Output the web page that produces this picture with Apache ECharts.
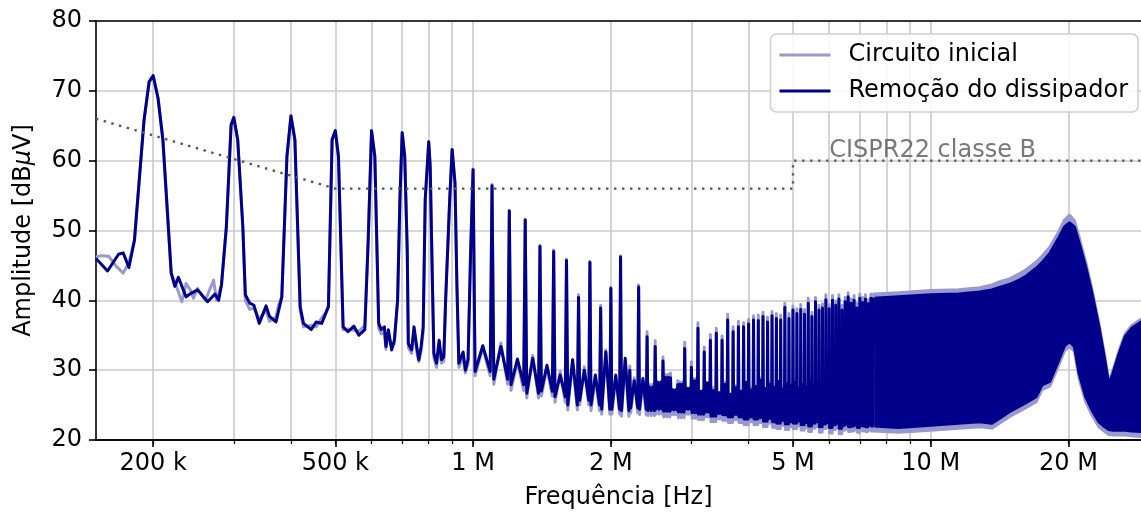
<!DOCTYPE html>
<html>
<head>
<meta charset="utf-8">
<script src="https://cdn.jsdelivr.net/npm/echarts@6/dist/echarts.min.js"></script>
<style>
  html, body { margin: 0; padding: 0; background: #ffffff; }
  #chart { width: 1141px; height: 514px; }
</style>
</head>
<body>
<div id="chart"></div>
<script>
// ---- Series names and axis ticks ----
const seriesNames = ['Circuito inicial', 'Remoção do dissipador'];
const limitName = 'CISPR22 classe B';
const xLabelTicks = [200e3, 500e3, 1e6, 2e6, 5e6, 10e6, 20e6];
const xGridTicks = [200e3, 300e3, 400e3, 500e3, 600e3, 700e3, 800e3, 900e3,
  1e6, 2e6, 3e6, 4e6, 5e6, 6e6, 7e6, 8e6, 9e6, 10e6, 20e6];
const xRange = [150e3, 28.8e6];
const yRange = [20, 80];
const yStep = 10;

// ---- CISPR 22 class B quasi-peak limit [Hz, dBuV] ----
const limitCispr = [[150e3, 66], [500e3, 56], [5e6, 56], [5e6, 60], [30e6, 60]];
const limitLabelAt = [6.0e6, 60];

// ---- Low band trace, 150 kHz - 1 MHz: [kHz, dBuV] ----
const lowInicial = [
  [150, 46.2], [154, 46.4], [160, 46.3], [166, 44.9], [172, 43.9], [177, 45.4], [182, 48.6],
  [191, 65.8], [196, 71.3], [200, 72.0], [205, 68.9], [210, 63.0], [219, 43.9], [224, 42.3],
  [231, 39.8], [236, 42.4], [241, 41.5], [245, 40.3], [250, 41.7], [260, 40.0], [271, 42.9],
  [275, 40.0], [282, 42.2], [289, 50.5], [296, 65.1], [300, 66.2], [306, 63.0], [314, 50.5],
  [318, 40.0], [325, 38.7], [332, 38.9], [341, 37.3], [353, 38.6], [359, 37.0], [371, 37.6],
  [376, 39.4], [382, 40.5], [392, 60.6], [400, 66.4], [408, 63.0], [419, 38.5], [426, 36.2],
  [443, 36.4], [454, 36.2], [467, 37.5], [476, 38.2], [483, 39.1], [492, 63.0], [500, 64.3],
  [508, 60.6], [520, 35.8], [533, 35.9], [549, 35.7], [563, 35.6], [580, 36.4], [590, 48.6],
  [600, 64.3], [610, 60.6], [622, 36.0], [630, 35.2], [640, 35.4], [645, 33.0], [653, 35.3],
  [664, 33.3], [673, 33.8], [684, 40.0], [692, 54.4], [700, 64.0], [709, 60.6], [718, 47.2],
  [722, 33.2], [734, 32.4], [743, 35.6], [753, 32.6], [761, 31.2], [770, 32.8], [778, 35.5],
  [786, 54.4], [800, 62.7], [806, 59.1], [815, 42.4], [821, 31.8], [832, 30.4], [843, 33.6],
  [853, 31.0], [863, 31.3], [871, 40.0], [889, 54.4], [900, 61.6], [913, 56.8], [922, 42.0],
  [931, 30.4], [951, 32.0], [962, 29.6], [975, 31.0], [988, 47.2]
];
const lowDissip = [
  [150, 46.0], [159, 44.2], [168, 46.6], [172, 46.8], [177, 44.7], [182, 48.6],
  [191, 65.8], [196, 71.3], [200, 72.2], [205, 68.9], [210, 63.0], [219, 43.9], [223, 42.0],
  [227, 43.3], [236, 40.5], [242, 41.0], [250, 41.5], [263, 39.8], [273, 40.9], [278, 40.0],
  [282, 42.2], [289, 50.5], [296, 65.1], [300, 66.2], [306, 63.0], [314, 50.5], [318, 40.8],
  [325, 39.6], [332, 39.3], [341, 36.7], [353, 39.2], [359, 37.7], [371, 36.9], [382, 40.5],
  [392, 60.6], [400, 66.4], [408, 63.0], [419, 39.1], [426, 36.7], [443, 35.8], [454, 36.9],
  [467, 36.7], [483, 39.1], [492, 63.0], [500, 64.3], [508, 60.6], [520, 36.2], [533, 35.5],
  [549, 36.3], [563, 35.0], [580, 35.8], [590, 48.6], [600, 64.3], [610, 60.6], [622, 36.7],
  [630, 35.8], [640, 36.2], [645, 33.4], [653, 35.8], [664, 32.9], [673, 34.3], [684, 40.0],
  [692, 54.4], [700, 64.0], [709, 60.6], [718, 47.2], [722, 33.8], [734, 32.9], [743, 36.2],
  [753, 33.4], [761, 31.5], [770, 33.4], [778, 36.2], [786, 54.4], [800, 62.7], [806, 59.1],
  [815, 42.4], [821, 32.4], [832, 31.0], [843, 34.3], [853, 31.5], [863, 31.9], [871, 40.0],
  [889, 54.4], [900, 61.6], [913, 56.8], [922, 42.0], [931, 31.0], [951, 32.6], [962, 30.0],
  [975, 31.5], [988, 47.2]
];

// ---- Harmonics of 100 kHz from 1.0 MHz to 7.5 MHz ----
const harmonicStep = 100e3;
const firstHarmonic = 10;
const denseFrom = 24; // from 2.4 MHz the floor noise fills the gaps
const peaksInicial = [
  58.8, 56.6, 52.9, 51.6, 47.9, 47.2, 45.9, 40.8, 45.6, 39.3,
  41.9, 46.4, 30.6, 42.2, 35.5, 34.2, 31.9, 29.6, 28.5, 34.0,
  31.2, 36.8, 33.3, 35.1, 36.0, 34.9, 38.0, 36.2, 37.0, 36.8,
  37.3, 37.8, 37.9, 38.3, 37.6, 38.4, 38.1, 37.9, 39.6, 38.1,
  39.2, 38.8, 39.4, 38.7, 40.3, 38.3, 40.4, 39.3, 39.5, 40.8,
  39.4, 40.7, 39.9, 40.8, 39.3, 40.4, 41.1, 40.2, 40.7, 39.6,
  40.9, 40.4, 40.8, 40.1, 40.9, 40.9
];
const peaksDissip = [
  58.7, 56.4, 52.8, 51.5, 47.7, 47.0, 45.7, 40.4, 45.4, 38.9,
  41.7, 46.2, 30.0, 41.9, 34.8, 33.4, 31.3, 28.9, 27.9, 33.1,
  30.4, 36.0, 32.6, 34.3, 35.3, 34.3, 37.2, 35.5, 36.2, 36.2,
  36.6, 37.2, 37.1, 37.7, 36.9, 37.8, 37.4, 37.2, 39.0, 37.4,
  38.6, 38.1, 38.7, 38.0, 39.6, 37.7, 39.8, 38.6, 38.9, 40.1,
  38.8, 40.0, 39.3, 40.2, 38.6, 39.8, 40.5, 39.6, 40.0, 38.9,
  40.3, 39.7, 40.2, 39.5, 40.3, 40.4
];
// floor between consecutive harmonics: lowest dip and the noise bump
const dipsInicial = [
  29.2, 28.0, 27.1, 26.0, 26.3, 25.4, 24.3, 25.0, 24.2, 23.7,
  23.7, 23.4, 23.9, 23.6, 23.5, 23.7, 23.3, 23.6, 23.2, 23.7,
  23.1, 22.9, 23.3, 22.6, 23.0, 22.8, 22.5, 22.9, 22.5, 22.2,
  22.6, 22.2, 22.5, 21.9, 22.4, 21.8, 21.6, 22.1, 21.5, 21.9,
  21.6, 22.0, 21.4, 21.8, 21.2, 21.7, 21.9, 21.1, 21.6, 21.8,
  21.0, 21.5, 21.7, 20.9, 21.4, 21.6, 21.2, 21.3, 21.5, 21.1,
  21.4, 21.3, 21.2, 21.5, 21.3
];
const dipsDissip = [
  29.8, 28.7, 27.9, 26.7, 27.0, 26.2, 25.0, 25.7, 25.0, 24.4,
  24.4, 24.2, 24.6, 24.4, 24.2, 24.4, 24.1, 24.3, 24.0, 24.4,
  23.9, 23.7, 24.0, 23.4, 23.8, 23.6, 23.3, 23.7, 23.3, 23.0,
  23.3, 23.0, 23.2, 22.7, 23.1, 22.6, 22.4, 22.8, 22.3, 22.6,
  22.4, 22.7, 22.2, 22.5, 22.0, 22.4, 22.6, 21.9, 22.3, 22.5,
  21.8, 22.2, 22.4, 21.7, 22.1, 22.3, 21.9, 22.0, 22.2, 21.8,
  22.1, 22.0, 21.9, 22.2, 22.0
];
const bumpsInicial = [
  33.2, 33.9, 31.2, 32.1, 30.3, 29.8, 31.0, 30.5, 28.8, 32.9,
  29.0, 31.3, 28.9, 28.4, 28.0, 27.9, 29.4, 26.8, 28.3, 27.0,
  28.8, 26.7, 27.9, 27.5, 26.5, 28.3, 26.3, 27.8, 26.7, 28.0,
  27.5, 27.4, 28.9, 27.1, 28.3, 27.3, 28.1, 27.6, 27.8, 28.1,
  28.0, 27.7, 27.7, 27.9, 28.2, 28.1, 27.9, 27.8, 28.3, 28.3,
  28.0, 28.0, 28.4, 28.5, 28.6, 28.7, 28.7, 28.9, 28.9, 29.1,
  29.1, 29.3, 29.2, 29.5, 29.3
];
const bumpsDissip = [
  33.5, 33.4, 31.6, 31.7, 30.7, 29.3, 31.5, 30.0, 29.3, 32.6,
  29.3, 31.7, 28.5, 28.8, 27.6, 28.3, 29.0, 27.2, 28.0, 27.4,
  28.5, 27.0, 28.2, 27.1, 26.8, 28.0, 26.6, 27.5, 27.0, 28.3,
  27.2, 27.7, 28.6, 27.4, 28.0, 27.6, 28.4, 27.3, 28.1, 27.8,
  28.3, 27.4, 28.0, 27.6, 28.5, 27.8, 28.2, 27.5, 28.6, 28.0,
  28.3, 27.7, 28.7, 28.2, 28.9, 28.4, 29.0, 28.6, 29.2, 28.8,
  29.4, 29.0, 29.5, 29.2, 29.6
];

// ---- Dense harmonic band above 7.5 MHz: envelope [MHz] -> dBuV ----
const bandFreqMHz = [7.5, 8.5, 10, 11.5, 12.8, 13.6, 14.2, 14.9, 15.6, 16.1, 17.0, 17.5, 18.2,
  19.0, 19.6, 20.1, 20.6, 21.1, 21.8, 22.5, 23.3, 24.0, 24.5, 25.0, 25.8, 26.6, 27.5, 28.8];
const bandUpperInicial = [40.9, 41.1, 41.4, 41.5, 41.8, 42.2, 42.7, 43.1, 43.8, 44.3, 45.5, 46.3, 47.6,
  49.7, 51.5, 52.2, 51.4, 49.0, 45.5, 41.6, 36.7, 32.0, 28.3, 29.9, 32.8, 35.2, 36.4, 37.3];
const bandLowerInicial = [21.3, 21.1, 21.4, 21.7, 21.9, 21.7, 22.5, 23.4, 24.1, 24.6, 25.5, 27.2, 27.7,
  30.6, 32.8, 33.4, 32.7, 28.8, 25.5, 23.6, 21.9, 21.2, 20.8, 20.7, 20.7, 20.7, 20.6, 20.5];
const bandUpperDissip = [40.3, 40.5, 40.8, 40.9, 41.2, 41.5, 41.9, 42.3, 42.9, 43.4, 44.6, 45.4, 46.7,
  48.8, 50.5, 51.1, 50.5, 48.2, 44.8, 41.0, 36.2, 31.5, 27.9, 29.5, 32.4, 34.8, 36.0, 36.9];
const bandLowerDissip = [22.0, 21.8, 22.1, 22.4, 22.6, 22.4, 23.2, 24.1, 24.8, 25.3, 26.2, 27.9, 28.4,
  31.3, 33.5, 34.1, 33.4, 29.5, 26.2, 24.3, 22.6, 21.9, 21.5, 21.4, 21.4, 21.4, 21.3, 21.2];

// ---- Styling ----
const colorInicial = '#9999d0';
const colorDissip = '#00008b';
const gridColor = '#cbcbcb';
const limitColor = '#585858';
const FONT = 'DejaVu Sans';

// ---- Builders ----
function lowTrace(pairs) {
  return pairs.map(p => [p[0] * 1e3, p[1]]);
}
// Peak at each harmonic, then the floor noise before the next one.
function harmonicTrace(peaks, dips, bumps) {
  const pts = [];
  for (let i = 0; i < peaks.length; i++) {
    const n = firstHarmonic + i;
    pts.push([n * harmonicStep, peaks[i]]);
    if (i >= dips.length) continue;
    const offsets = n >= denseFrom
      ? [[0.1, dips[i]], [0.3, bumps[i]], [0.5, dips[i]], [0.7, bumps[i]], [0.9, dips[i]]]
      : [[0.1, dips[i]], [0.5, bumps[i]], [0.9, dips[i]]];
    offsets.forEach(o => pts.push([(n + o[0]) * harmonicStep, o[1]]));
  }
  return pts;
}
function fmtFreq(v) {
  return v >= 1e6 ? Math.round(v / 1e6) + ' M' : Math.round(v / 1e3) + ' k';
}

function traceSeries(name, color, low, peaks, dips, bumps) {
  return {
    name: name, type: 'line', symbol: 'none', showSymbol: false, silent: true,
    itemStyle: { color: color },
    lineStyle: { color: color, width: 3, join: 'round' },
    data: lowTrace(low).concat(harmonicTrace(peaks, dips, bumps))
  };
}

// Filled envelope of the unresolved harmonics: upper edge forward, lower edge back.
function bandSeries(name, color, lower, upper) {
  const rows = bandFreqMHz.map((f, i) => [f * 1e6, lower[i], upper[i]]);
  return {
    name: name, type: 'custom', silent: true, clip: true,
    itemStyle: { color: color },
    encode: { x: 0, y: [1, 2] },
    data: rows,
    renderItem: function (params, api) {
      if (params.dataIndex !== 0) return null;
      const pts = [];
      for (let i = 0; i < rows.length; i++) pts.push(api.coord([rows[i][0], rows[i][2]]));
      for (let i = rows.length - 1; i >= 0; i--) pts.push(api.coord([rows[i][0], rows[i][1]]));
      return {
        type: 'polygon',
        shape: { points: pts },
        style: { fill: color, stroke: color, lineWidth: 3, lineJoin: 'round' }
      };
    }
  };
}

const chart = echarts.init(document.getElementById('chart'), null, { renderer: 'canvas' });

const option = {
  animation: false,
  backgroundColor: '#ffffff',
  textStyle: { fontFamily: FONT },
  grid: { left: 96, right: 0, top: 21, bottom: 74, containLabel: false, outerBoundsMode: 'none' },
  legend: {
    data: seriesNames,
    orient: 'vertical',
    right: 3, top: 34,
    icon: 'rect', itemWidth: 51, itemHeight: 3, itemGap: 12,
    padding: [9, 10, 9, 9],
    backgroundColor: 'rgba(255,255,255,0.85)',
    borderColor: '#d0d0d0', borderWidth: 1.6, borderRadius: 6,
    textStyle: { fontFamily: FONT, fontSize: 24, color: '#000', padding: [0, 0, 0, 13] }
  },
  xAxis: [
    {
      type: 'log', logBase: 10, min: xRange[0], max: xRange[1], position: 'bottom',
      axisLine: { show: true, lineStyle: { color: '#000', width: 1.6 } },
      axisTick: { show: true, length: 4, lineStyle: { color: '#000', width: 1.2 }, customValues: xGridTicks },
      axisLabel: { show: false },
      splitLine: { show: true, lineStyle: { color: gridColor, width: 1.6 } },
      minorTick: { show: false }, minorSplitLine: { show: false }
    },
    {
      type: 'log', logBase: 10, min: xRange[0], max: xRange[1], position: 'bottom',
      axisLine: { show: true, lineStyle: { color: '#000', width: 1.6 } },
      axisTick: { show: true, length: 7, lineStyle: { color: '#000', width: 1.6 }, customValues: xLabelTicks },
      axisLabel: {
        show: true, customValues: xLabelTicks, formatter: fmtFreq,
        fontFamily: FONT, fontSize: 24, color: '#000', margin: 12
      },
      splitLine: { show: false },
      name: 'Frequência [Hz]', nameLocation: 'middle', nameGap: 46,
      nameTextStyle: { fontFamily: FONT, fontSize: 24, color: '#000' }
    },
    {
      type: 'log', logBase: 10, min: xRange[0], max: xRange[1], position: 'top',
      axisLine: { show: true, lineStyle: { color: '#000', width: 1.6 } },
      axisTick: { show: false }, axisLabel: { show: false }, splitLine: { show: false }
    }
  ],
  yAxis: {
    type: 'value', min: yRange[0], max: yRange[1], interval: yStep,
    axisLine: { show: true, lineStyle: { color: '#000', width: 1.6 } },
    axisTick: { show: true, length: 7, lineStyle: { color: '#000', width: 1.6 } },
    axisLabel: { fontFamily: FONT, fontSize: 24, color: '#000', margin: 14 },
    splitLine: { show: true, lineStyle: { color: gridColor, width: 1.6 } },
    name: 'Amplitude [dB{mu|μ}V]', nameLocation: 'middle', nameGap: 60, nameRotate: 90,
    nameTextStyle: {
      fontFamily: FONT, fontSize: 24, color: '#000',
      rich: { mu: { fontFamily: FONT, fontSize: 24, fontStyle: 'italic', color: '#000' } }
    }
  },
  series: [
    traceSeries(seriesNames[0], colorInicial, lowInicial, peaksInicial, dipsInicial, bumpsInicial),
    bandSeries(seriesNames[0], colorInicial, bandLowerInicial, bandUpperInicial),
    traceSeries(seriesNames[1], colorDissip, lowDissip, peaksDissip, dipsDissip, bumpsDissip),
    bandSeries(seriesNames[1], colorDissip, bandLowerDissip, bandUpperDissip),
    {
      name: limitName, type: 'line', symbol: 'none', showSymbol: false, silent: true, z: 5,
      lineStyle: { color: limitColor, width: 2.4, type: [2.4, 5.6], cap: 'butt' },
      data: limitCispr
    },
    {
      name: limitName, type: 'scatter', symbolSize: 0, silent: true, z: 6,
      data: [limitLabelAt],
      label: {
        show: true, formatter: limitName, position: 'top', distance: -2, align: 'left',
        fontFamily: FONT, fontSize: 24, color: limitColor
      }
    }
  ]
};

chart.setOption(option);
</script>
</body>
</html>
